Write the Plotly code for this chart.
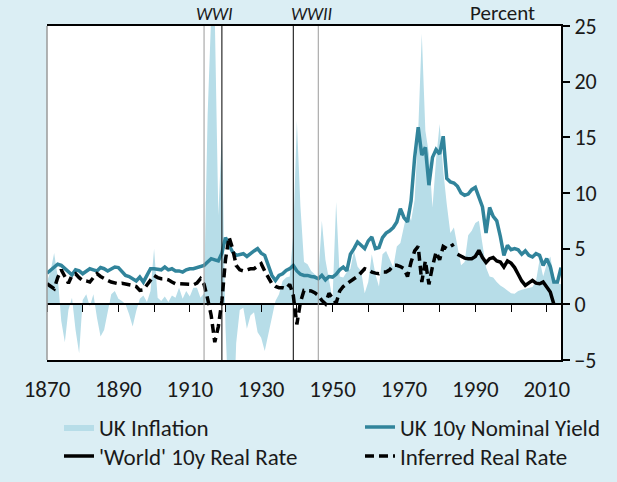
import plotly.graph_objects as go

# ---------------- data ----------------
years_infl = list(range(1870, 2015))
uk_inflation = [
    2.0, 3.0, 4.6, 2.5, -1.5, -3.4, -0.5, 0.6, -2.3, -4.4,      # 1870s
    0.4, 0.9, -0.2, 0.9, -1.2, -2.9, -2.3, -0.8, 0.9, 1.2,      # 1880s
    0.5, 0.3, 0.0, -0.9, -2.0, -0.6, 0.5, 0.8, 0.2, 1.2,        # 1890s
    5.0, 0.6, 0.3, 0.7, 0.2, 0.8, 0.6, 1.5, 0.5, 1.2,           # 1900s
    0.7, 1.5, 1.5, 0.6, 1.0, 17.0, 26.0, 26.0, 8.0, 15.5,       # 1910s
    -2.0, -10.0, -13.0, -3.5, -0.5, -0.3, -2.2, -1.0, -0.7, -2.5,  # 1920s
    -3.0, -4.2, -2.6, -1.0, 0.3, 0.9, 2.1, 2.4, 2.5, 6.3,       # 1930s
    16.5, 8.8, 3.8, 3.6, 3.0, 2.7, 2.4, 7.5, 4.0, 2.2,          # 1940s
    0.5, 9.2, 2.5, 2.4, 2.9, 3.2, 4.8, 3.4, 3.0, 1.0,           # 1950s
    2.0, 4.5, 2.7, 1.6, 4.5, 4.8, 4.0, 3.3, 5.2, 5.5,           # 1960s
    7.0, 8.4, 7.5, 9.4, 15.6, 24.3, 15.6, 13.5, 8.7, 13.0,      # 1970s
    16.2, 12.0, 9.0, 6.4, 6.9, 5.1, 3.5, 3.8, 6.2, 6.6,         # 1980s
    7.3, 7.5, 5.2, 3.3, 2.5, 2.4, 2.0, 1.7, 1.5, 1.25,          # 1990s
    1.0, 0.95, 1.2, 1.3, 1.4, 1.5, 1.55, 2.1, 4.0, 2.5,         # 2000s
    3.6, 4.3, 2.5, 1.9, 1.8,                                    # 2010-2014
]

years_nominal = list(range(1870, 2015))
uk_nominal_yield = [
    2.8, 3.1, 3.35, 3.6, 3.5, 3.2, 2.9, 2.65, 3.1, 3.0,
    2.75, 3.0, 3.2, 3.1, 3.0, 3.3, 3.2, 3.0, 3.2, 3.35,
    3.3, 2.9, 2.6, 2.5, 2.3, 2.1, 2.45, 2.0, 2.6, 3.2,
    3.2, 3.15, 3.1, 3.35, 3.1, 3.2, 3.0, 3.0, 2.9, 3.1,
    3.2, 3.2, 3.3, 3.4, 3.5, 3.8, 4.1, 4.0, 3.9, 4.6,
    6.0, 5.3, 4.7, 4.4, 4.5, 4.55, 4.3, 4.6, 4.8, 5.0,
    4.6, 4.4, 3.5, 2.6, 2.15, 2.6, 2.75, 3.05, 3.2, 3.5,
    3.0, 2.7, 2.6, 2.6, 2.5, 2.45, 2.3, 2.6, 2.2, 2.5,
    2.45, 2.7, 3.1, 3.35, 3.0, 4.5, 5.0, 5.6, 5.3, 5.0,
    5.7, 6.05, 5.0, 5.1, 6.0, 6.4, 6.6, 6.9, 7.4, 8.6,
    7.8, 7.4, 9.3, 13.2, 15.9, 13.4, 14.1, 10.7, 13.2, 13.9,
    13.5, 15.1, 11.3, 11.0, 10.9, 10.6, 10.0, 9.8, 9.9, 10.3,
    10.5, 9.5, 8.75, 6.4, 8.7, 7.9, 7.5, 6.1, 4.4, 5.3,
    4.9, 5.0, 4.9, 4.5, 4.8, 4.4, 4.25, 4.55, 4.4, 3.5,
    4.1, 3.4, 2.0, 2.0, 3.3,
]

years_world = list(range(1985, 2013))
world_real_rate = [
    4.5, 4.3, 4.15, 4.1, 4.1, 4.3, 4.85, 4.2, 3.75, 4.1,
    4.2, 3.9, 3.8, 3.35, 3.9, 3.7, 3.3, 2.7, 2.1, 1.7,
    1.95, 2.15, 1.9, 1.85, 2.0, 1.6, 1.1, 0.0,
]

years_inferred = list(range(1870, 1985))
inferred_real_rate = [
    1.85, 1.6, 1.4, 2.4, 3.1, 2.5, 1.9, 2.6, 2.75, 2.4,
    2.15, 2.1, 2.0, 2.4, 2.75, 2.5, 2.3, 2.15, 2.0, 1.9,
    1.85, 1.9, 1.85, 1.75, 1.7, 1.6, 1.25, 1.3, 1.7, 2.2,
    2.6, 2.4, 2.3, 2.3, 2.2, 2.0, 1.85, 1.85, 1.85, 1.85,
    1.8, 1.75, 1.9, 2.3, 1.8, 0.5, -1.0, -3.4, -2.0, 0.3,
    4.0, 6.05, 5.0, 3.5, 3.1, 3.0, 3.1, 3.2, 3.2, 3.4,
    3.65, 3.0, 2.4, 1.85, 1.6, 1.5, 1.5, 1.4, 1.8, 0.8,
    -1.8, 0.2, 1.25, 1.25, 1.2, 1.05, 0.8, 0.35, 0.05, 1.0,
    0.5, 0.1, 1.2, 1.6, 1.85, 2.1, 2.3, 2.5, 2.9, 3.2,
    3.1, 2.9, 2.8, 2.75, 2.9, 2.9, 3.1, 3.5, 3.5, 3.4,
    3.2, 2.5, 3.8, 4.8, 5.2, 2.0, 3.9, 1.8, 3.4, 4.7,
    4.0, 5.2, 5.0, 5.2, 5.4,
]

x_label_years = [1870, 1890, 1910, 1930, 1950, 1970, 1990, 2010]
x_tick_years = list(range(1870, 2011, 10))
y_ticks = [-5, 0, 5, 10, 15, 20, 25]
war_lines = [1914, 1919, 1939, 1946]
war_line_colors = ["#9a9a9a", "#000000", "#000000", "#9a9a9a"]
war_labels = ["WWI", "WWII"]
war_label_x = [1917, 1944]

FONT = "Carlito, Calibri, Lato, sans-serif"
TXT = "#1a1a1a"
W, H = 617, 482

fig = go.Figure()

fig.add_trace(go.Scatter(
    x=years_infl, y=uk_inflation, name="UK Inflation", mode="lines",
    fill="tozeroy", fillcolor="#B7DDE8", line=dict(width=0, color="#B7DDE8"),
    legend="legend",
))
fig.add_trace(go.Scatter(
    x=years_nominal, y=uk_nominal_yield, name="UK 10y Nominal Yield", mode="lines",
    line=dict(color="#31849B", width=3.5), legend="legend2",
))
fig.add_trace(go.Scatter(
    x=years_world, y=world_real_rate, name="'World' 10y Real Rate", mode="lines",
    line=dict(color="#000000", width=3.5), legend="legend3",
))
fig.add_trace(go.Scatter(
    x=years_inferred, y=inferred_real_rate, name="Inferred Real Rate", mode="lines",
    line=dict(color="#000000", width=3.5, dash="9px,5px"), legend="legend4",
    xaxis="x2",
))

for yr, col in zip(war_lines, war_line_colors):
    fig.add_shape(type="line", xref="x", yref="paper", x0=yr, x1=yr, y0=0, y1=1,
                  line=dict(color=col, width=1))

# left gray frame edge
fig.add_shape(type="line", xref="paper", yref="paper", x0=0, x1=0, y0=0, y1=1,
              line=dict(color="#9a9a9a", width=1.5))

for lab, xv in zip(war_labels, war_label_x):
    fig.add_annotation(x=xv, y=1.036, xref="x", yref="paper", text="<i>%s</i>" % lab,
                       showarrow=False, font=dict(family=FONT, size=18, color=TXT),
                       xanchor="center", yanchor="middle")

fig.add_annotation(x=(502 - 47) / 514, y=(360 - 13) / 334, xref="paper", yref="paper",
                   text="Percent", showarrow=False,
                   font=dict(family=FONT, size=21, color=TXT),
                   xanchor="center", yanchor="middle")

LEG_FONT = dict(family=FONT, size=23, color=TXT)


def leg(px, py):
    return dict(orientation="h", xref="container", yref="container",
                x=px / W, y=1 - py / H, xanchor="left", yanchor="middle",
                bgcolor="rgba(0,0,0,0)", font=LEG_FONT)


fig.update_layout(
    width=W, height=H,
    margin=dict(l=47, r=56, t=26, b=122, autoexpand=False),
    paper_bgcolor="#DBEEF4", plot_bgcolor="#FFFFFF",
    font=dict(family=FONT, size=20, color=TXT),
    xaxis=dict(
        range=[1870, 2014], tickmode="array", tickvals=x_label_years,
        ticktext=[str(v) for v in x_label_years],
        ticks="", showline=True, linecolor="#000000", linewidth=2, mirror=True,
        showgrid=False, zeroline=False, ticklabelstandoff=7, automargin=False,
        tickfont=dict(size=23, color=TXT),
    ),
    xaxis2=dict(
        range=[1870, 2014], overlaying="x", anchor="free", position=5 / 30,
        tickmode="array", tickvals=x_tick_years, ticks="outside", ticklen=7,
        tickwidth=1, tickcolor="#000000", showticklabels=False,
        showline=True, linecolor="#000000", linewidth=1.5,
        showgrid=False, zeroline=False,
    ),
    yaxis=dict(
        range=[-5, 25], side="right", tickmode="array", tickvals=y_ticks,
        ticks="outside", ticklen=7, tickwidth=1.5, tickcolor="#000000",
        showline=True, linecolor="#000000", linewidth=2, automargin=False,
        showgrid=False, zeroline=False, tickfont=dict(size=22, color=TXT),
    ),
    legend=leg(59, 427),
    legend2=leg(360, 427),
    legend3=leg(59, 456),
    legend4=leg(360, 456),
    showlegend=True,
)

fig.write_html(
    "out.html",
    config={"displayModeBar": False},
    post_script="document.body.style.margin='0px';"
                "document.documentElement.style.margin='0px';",
)
